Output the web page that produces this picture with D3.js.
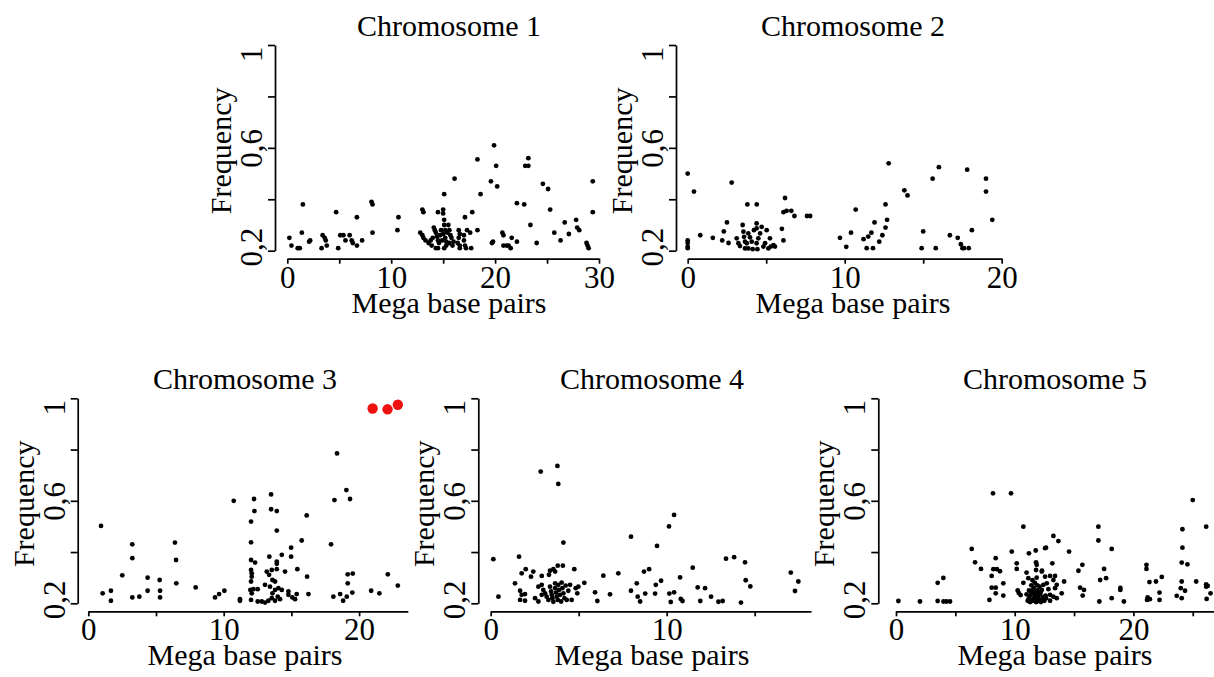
<!DOCTYPE html>
<html>
<head>
<meta charset="utf-8">
<script src="https://cdn.jsdelivr.net/npm/d3@7"></script>
<style>
  body { margin: 0; background: #fff; }
  svg text { font-family: "Liberation Serif", "Times New Roman", serif; fill: #000; }
</style>
</head>
<body>
<svg id="chart" width="1214" height="677"></svg>
<script>
// values: [Mb, frequency]
var chr1 = [
  [0.2,0.25],[0.4,0.22],[1.0,0.21],[1.2,0.21],[1.5,0.38],[1.4,0.27],[2.1,0.235],[2.2,0.24],
  [3.3,0.21],[3.4,0.26],[3.6,0.25],[3.7,0.24],[3.8,0.22],[4.7,0.35],[4.9,0.21],[5.1,0.26],
  [5.4,0.26],[5.6,0.24],[6.0,0.26],[6.2,0.24],[6.3,0.23],[6.7,0.33],[6.7,0.22],[7.2,0.24],
  [8.1,0.39],[8.2,0.38],[8.2,0.27],[10.6,0.28],[10.7,0.33],
  [13.0,0.36],[13.1,0.35],[12.8,0.27],[13.0,0.26],[13.1,0.25],[13.3,0.24],[13.6,0.23],[13.8,0.24],
  [14.2,0.28],[14.3,0.27],[14.4,0.255],[14.5,0.24],[14.6,0.23],[14.3,0.21],[14.5,0.21],[14.5,0.35],
  [15.0,0.36],[15.0,0.345],[15.1,0.32],[15.1,0.30],[15.2,0.28],[15.0,0.265],[15.2,0.25],[15.3,0.235],
  [15.3,0.22],[15.1,0.21],[15.1,0.42],[15.6,0.28],[15.7,0.26],[15.8,0.25],[16.0,0.235],[15.9,0.22],
  [16.5,0.28],[16.6,0.265],[16.5,0.25],[16.4,0.23],[16.6,0.21],[16.6,0.22],[17.0,0.26],[17.0,0.24],
  [17.1,0.22],[17.2,0.21],[13.9,0.22],[14.0,0.25],[14.7,0.26],[14.8,0.28],[14.9,0.24],[15.4,0.27],
  [15.5,0.30],[15.6,0.23],[14.1,0.29],
  [16.1,0.48],[17.1,0.33],[17.3,0.28],[17.6,0.27],[17.7,0.21],[17.8,0.35],[18.3,0.28],[18.3,0.555],
  [18.6,0.42],[19.6,0.47],[19.9,0.61],[20.1,0.53],[20.2,0.45],[19.7,0.23],[19.8,0.235],[20.7,0.27],
  [20.8,0.26],[20.8,0.22],[21.1,0.22],[21.3,0.22],[21.5,0.21],[21.6,0.25],[22.1,0.385],[22.1,0.235],
  [22.8,0.38],[22.9,0.53],[23.2,0.53],[23.2,0.56],[23.4,0.30],[24.0,0.23],[24.6,0.46],[25.1,0.44],
  [25.3,0.36],[25.7,0.27],[26.3,0.24],[26.7,0.31],[27.1,0.265],[27.8,0.32],[27.9,0.29],[28.1,0.28],
  [28.8,0.23],[28.9,0.22],[29.0,0.21],[29.4,0.47],[29.4,0.35]
];

var chr2 = [
  [0.0,0.50],[0.4,0.43],[0.0,0.24],[0.0,0.23],[0.0,0.215],[0.0,0.21],[0.8,0.26],[1.6,0.25],
  [2.3,0.275],[2.5,0.31],[2.2,0.24],[2.6,0.23],[2.8,0.465],[3.5,0.30],[3.8,0.38],[4.4,0.38],
  [3.12,0.248],[3.23,0.229],[3.33,0.218],[3.55,0.274],[3.59,0.254],[3.65,0.235],[3.65,0.209],
  [3.76,0.229],[3.86,0.267],[3.86,0.209],[3.97,0.252],[4.08,0.235],[4.14,0.206],[4.22,0.28],
  [4.39,0.287],[4.39,0.306],[4.39,0.229],[4.44,0.206],[4.5,0.248],[4.61,0.267],[4.71,0.293],
  [4.82,0.216],[4.93,0.229],[5.03,0.28],[5.14,0.209],[5.24,0.248],[5.29,0.216],[5.46,0.222],[5.56,0.216],
  [6.0,0.285],[6.2,0.405],[6.1,0.35],[6.3,0.355],[6.6,0.355],[6.1,0.24],[6.8,0.335],[7.6,0.335],
  [7.8,0.335],[9.7,0.25],[10.1,0.215],[10.4,0.27],[10.7,0.36],[11.2,0.245],[11.5,0.255],[11.7,0.27],
  [11.4,0.21],[11.8,0.21],[11.9,0.31],[12.2,0.235],[12.4,0.26],[12.6,0.29],[12.6,0.38],[12.7,0.32],
  [12.8,0.54],[13.8,0.435],[14.0,0.415],[15.0,0.275],[14.9,0.21],[15.6,0.48],[15.8,0.21],[16.0,0.525],
  [16.7,0.26],[17.2,0.25],[17.4,0.225],[17.5,0.21],[17.6,0.21],[17.9,0.21],[17.8,0.515],[18.1,0.28],
  [19.0,0.48],[19.0,0.43],[19.4,0.32]
];

var chr3 = [
  [0.94,0.502],[1.06,0.239],[1.67,0.249],[1.67,0.21],[2.51,0.309],[3.25,0.43],[3.25,0.376],[3.25,0.223],
  [3.77,0.226],[4.38,0.30],[4.38,0.249],[5.27,0.291],[5.3,0.249],[5.3,0.223],[6.4,0.437],[6.48,0.369],
  [6.5,0.278],[7.93,0.262],[9.36,0.223],[9.66,0.236],[10.05,0.249],[10.74,0.60],[11.2,0.216],[11.2,0.21],
  [12.02,0.519],[12.02,0.438],[12.24,0.607],[12.27,0.56],[12.02,0.369],[12.32,0.359],[12.02,0.33],
  [12.07,0.317],[12.07,0.304],[12.02,0.285],[11.97,0.252],[12.07,0.239],[12.02,0.213],[12.19,0.255],
  [12.51,0.255],[13.5,0.625],[13.5,0.567],[13.92,0.56],[13.92,0.484],[13.37,0.382],[13.92,0.363],
  [13.92,0.354],[14.29,0.389],[14.53,0.324],[13.18,0.324],[13.35,0.311],[13.55,0.33],[13.6,0.291],
  [13.79,0.285],[13.92,0.333],[13.05,0.272],[13.42,0.265],[13.6,0.239],[13.79,0.252],[14.04,0.259],
  [14.29,0.252],[13.99,0.226],[14.16,0.216],[13.79,0.21],[13.55,0.22],[13.3,0.21],[13.05,0.203],
  [12.81,0.207],[12.51,0.207],[14.78,0.246],[14.78,0.233],[15.07,0.223],[15.27,0.216],[15.39,0.236],
  [15.44,0.333],[14.98,0.417],[14.98,0.382],[15.76,0.445],[16.13,0.543],[16.16,0.304],[16.26,0.236],
  [17.93,0.43],[18.37,0.785],[18.18,0.603],[19.06,0.642],[19.33,0.607],[18.1,0.226],[18.6,0.236],
  [18.82,0.21],[19.09,0.226],[19.16,0.278],[19.16,0.313],[19.53,0.316],[19.5,0.242],[20.89,0.249],
  [21.5,0.239],[22.12,0.313],[22.86,0.269]
];
var chr3Top = [[21.0,0.96],[22.1,0.957],[22.86,0.975]];

var chr4 = [
  [0.15,0.372],[0.44,0.226],[1.61,0.382],[1.38,0.278],[1.67,0.249],[1.76,0.317],[1.99,0.333],
  [2.42,0.324],[2.29,0.304],[2.9,0.307],[3.37,0.327],[3.56,0.333],[3.66,0.324],[3.31,0.311],
  [1.76,0.233],[1.95,0.236],[1.67,0.213],[1.95,0.21],[2.84,0.714],[3.79,0.736],[3.84,0.666],
  [4.13,0.437],[3.81,0.347],[4.1,0.347],[4.75,0.333],
  [2.71,0.265],[2.9,0.272],[2.99,0.252],[3.09,0.239],[3.18,0.226],[3.28,0.213],[3.37,0.265],
  [3.43,0.246],[3.47,0.233],[3.5,0.22],[3.56,0.206],[3.66,0.278],[3.66,0.259],[3.71,0.242],
  [3.75,0.226],[3.81,0.213],[3.84,0.272],[3.88,0.252],[3.94,0.233],[4.0,0.207],[4.03,0.281],
  [4.07,0.259],[4.13,0.239],[4.19,0.22],[4.26,0.269],[4.32,0.213],[4.41,0.249],[4.51,0.272],
  [4.6,0.213],[2.52,0.22],[2.71,0.207],[2.9,0.233],[4.83,0.259],[4.98,0.265],[4.92,0.239],
  [5.32,0.28],[5.93,0.243],[6.06,0.209],[6.4,0.308],[6.78,0.235],[7.25,0.317],[7.97,0.46],
  [7.97,0.249],[8.3,0.278],[8.35,0.226],[8.49,0.207],[8.71,0.324],[9.0,0.333],[8.78,0.238],
  [9.34,0.238],[9.38,0.272],[9.68,0.288],[9.45,0.424],[10.13,0.50],[10.42,0.545],[10.15,0.238],
  [10.42,0.243],[10.23,0.205],[10.76,0.301],[10.8,0.217],[10.9,0.209],[11.48,0.339],[11.76,0.262],
  [12.18,0.259],[11.91,0.209],[12.52,0.226],[12.94,0.206],[13.18,0.209],[13.37,0.374],[13.83,0.38],
  [14.22,0.203],[14.45,0.36],[14.49,0.29],[14.75,0.266],[17.05,0.32],[17.48,0.285],[17.29,0.248]
];

var chr5 = [
  [0.2,0.209],[2.02,0.207],[3.51,0.209],[3.51,0.28],[3.99,0.299],[4.0,0.207],[4.25,0.207],[4.55,0.207],
  [6.38,0.412],[6.66,0.36],[7.16,0.334],[7.87,0.213],[8.06,0.307],[8.17,0.629],[8.4,0.376],[8.2,0.333],
  [8.5,0.333],[8.76,0.325],[8.06,0.261],[8.4,0.261],[8.4,0.239],[9.04,0.278],[9.04,0.23],[9.69,0.629],
  [9.75,0.402],[10.17,0.356],[10.17,0.334],[10.73,0.499],[10.25,0.25],[10.35,0.24],[10.5,0.232],
  [10.73,0.28],[11.0,0.32],[11.2,0.395],[11.15,0.298],[11.77,0.406],[11.8,0.36],[11.85,0.35],
  [11.8,0.33],[12.3,0.327],[12.56,0.415],
  [11.1,0.21],[11.2,0.22],[11.3,0.23],[11.4,0.24],[11.5,0.25],[11.6,0.26],[11.3,0.205],[11.5,0.21],
  [11.6,0.22],[11.7,0.23],[11.8,0.24],[11.9,0.25],[11.8,0.205],[11.9,0.215],[12.0,0.225],[12.1,0.235],
  [12.2,0.245],[12.0,0.21],[12.2,0.205],[12.3,0.215],[12.4,0.225],[11.9,0.27],[11.7,0.28],[12.1,0.265],
  [11.4,0.27],[11.2,0.25],[11.6,0.24],[12.5,0.21],[12.6,0.23],[11.0,0.235],[11.5,0.29],[11.85,0.30],
  [13.26,0.463],[13.68,0.443],[12.64,0.417],[14.58,0.402],[13.17,0.356],[12.28,0.324],[12.56,0.304],
  [12.98,0.307],[13.4,0.307],[13.26,0.291],[12.7,0.278],[12.42,0.272],[13.54,0.272],[12.84,0.255],
  [13.4,0.259],[12.28,0.252],[12.13,0.239],[12.98,0.233],[12.64,0.22],[13.26,0.226],[12.42,0.213],
  [12.98,0.21],[13.54,0.22],[13.96,0.239],[14.16,0.285],[15.37,0.327],[15.7,0.35],[15.51,0.261],
  [15.84,0.252],[15.73,0.23],[17.05,0.499],[17.05,0.445],[18.17,0.412],[17.53,0.334],[17.2,0.291],
  [17.7,0.298],[17.13,0.207],[18.17,0.22],[18.9,0.26],[18.9,0.252],[19.2,0.207],[21.1,0.35],[21.1,0.334],
  [21.35,0.283],[21.9,0.285],[22.39,0.303],[21.2,0.223],[21.39,0.216],[21.15,0.213],[22.2,0.242],
  [22.2,0.213],[24.13,0.489],[24.13,0.417],[24.07,0.359],[24.55,0.352],[24.07,0.285],[23.65,0.229],
  [23.99,0.259],[24.35,0.249],[24.07,0.22],[25.0,0.603],[25.29,0.285],[26.13,0.499],[26.13,0.274],
  [26.26,0.268],[26.13,0.265],[26.5,0.239],[26.17,0.217]
];

var titles = ["Chromosome 1", "Chromosome 2", "Chromosome 3", "Chromosome 4", "Chromosome 5"];
var xTicks = [0, 5, 10, 15, 20, 25, 30];
var yTicks = [0.2, 0.4, 0.6, 0.8, 1];
var xLabelled = [0, 10, 20, 30];
var yLabelled = [0.2, 0.6, 1];

// panel layout (pixels)
var panels = [
  { data: chr1, left: 287.3, ppu: 10.39, xMax: 30,   yAxisX: 275,   top: 45,    bottom: 250.7, axisY: 258.7, titleX: 449 },
  { data: chr2, left: 687.7, ppu: 15.7,  xMax: 20,   yAxisX: 676,   top: 45,    bottom: 250.7, axisY: 258.7, titleX: 853 },
  { data: chr3, left: 88.3,  ppu: 13.54, xMax: 23.6, yAxisX: 77.7,  top: 398.3, bottom: 603.3, axisY: 611.3, titleX: 245, extra: chr3Top },
  { data: chr4, left: 490.7, ppu: 17.6,  xMax: 18.2, yAxisX: 478.3, top: 398.3, bottom: 603.3, axisY: 611.3, titleX: 652 },
  { data: chr5, left: 896,   ppu: 11.87, xMax: 28,   yAxisX: 878.3, top: 398.3, bottom: 603.3, axisY: 611.3, titleX: 1055 }
];

var svg = d3.select("#chart");
svg.append("rect").attr("width", 1214).attr("height", 677).attr("fill", "#fff");

var fmt = function(v) { return String(v).replace(".", ","); };

panels.forEach(function(p, i) {
  var x = d3.scaleLinear().domain([0, p.xMax]).range([p.left, p.left + p.xMax * p.ppu]);
  var y = d3.scaleLinear().domain([0.2, 1]).range([p.bottom, p.top]);
  var g = svg.append("g");

  var xAxis = d3.axisBottom(x)
    .tickValues(xTicks.filter(function(t) { return t <= p.xMax; }))
    .tickSize(5).tickSizeOuter(0).tickPadding(2)
    .tickFormat(function(d) { return xLabelled.indexOf(d) !== -1 ? d : ""; });

  var gx = g.append("g").attr("transform", "translate(0," + p.axisY + ")").call(xAxis);
  gx.selectAll("path, line").attr("stroke", "#000").attr("stroke-width", 1.7);
  gx.selectAll("text").attr("font-size", 31).attr("dy", null).attr("y", 29);

  var yAxis = d3.axisLeft(y)
    .tickValues(yTicks).tickSize(7).tickSizeOuter(0)
    .tickFormat(function(d) { return yLabelled.indexOf(d) !== -1 ? fmt(d) : ""; });

  var gy = g.append("g").attr("transform", "translate(" + p.yAxisX + ",0)").call(yAxis);
  gy.selectAll("path, line").attr("stroke", "#000").attr("stroke-width", 1.7);
  // rotated tick labels; the top one is nudged down and the bottom one up, as in the picture
  gy.selectAll("text")
    .attr("font-size", 31)
    .attr("text-anchor", "middle")
    .attr("dy", null)
    .attr("x", function(d) { return d === 1 ? -9 : (d === 0.2 ? 4 : 0); })
    .attr("y", -13)
    .attr("transform", "rotate(-90)");

  g.selectAll(".domain").attr("fill", "none");

  g.append("text")
    .attr("transform", "translate(" + (p.yAxisX - 44) + "," + ((p.top + p.bottom) / 2 + 3) + ") rotate(-90)")
    .attr("text-anchor", "middle")
    .attr("font-size", 30)
    .text("Frequency");

  g.append("text")
    .attr("x", p.titleX).attr("y", p.top - 9)
    .attr("text-anchor", "middle")
    .attr("font-size", 30)
    .text(titles[i]);

  g.append("text")
    .attr("x", p.titleX).attr("y", p.axisY + 54)
    .attr("text-anchor", "middle")
    .attr("font-size", 30)
    .text("Mega base pairs");

  g.selectAll(".dot").data(p.data).enter().append("circle")
    .attr("class", "dot")
    .attr("cx", function(d) { return x(d[0]); })
    .attr("cy", function(d) { return y(d[1]); })
    .attr("r", 2.4)
    .attr("fill", "#000");

  if (p.extra) {
    g.selectAll(".hit").data(p.extra).enter().append("circle")
      .attr("class", "hit")
      .attr("cx", function(d) { return x(d[0]); })
      .attr("cy", function(d) { return y(d[1]); })
      .attr("r", 5.2)
      .attr("fill", "#ee1111");
  }
});
</script>
</body>
</html>
